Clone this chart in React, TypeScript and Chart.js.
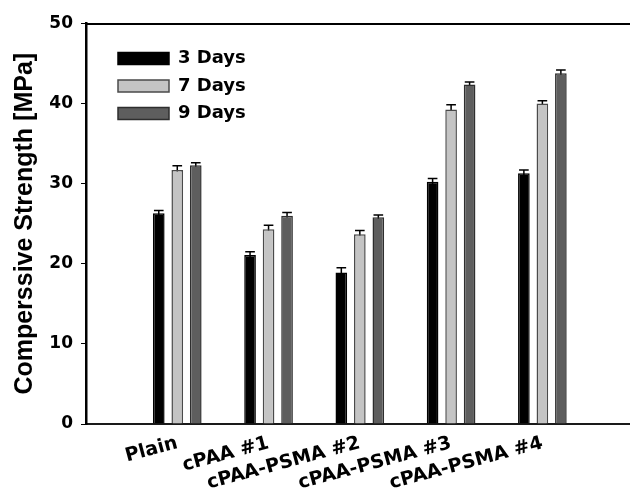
import React, { useEffect, useRef } from 'react';
import { Chart, registerables } from 'chart.js';

Chart.register(...registerables);

const categories = ['Plain', 'cPAA #1', 'cPAA-PSMA #2', 'cPAA-PSMA #3', 'cPAA-PSMA #4'];
const seriesNames = ['3 Days', '7 Days', '9 Days'];
const days3 = [26.3, 21.1, 18.9, 30.25, 31.3];
const days7 = [31.7, 24.3, 23.7, 39.25, 40.0];
const days9 = [32.3, 26.0, 25.8, 42.4, 43.8];
const err3 = [0.35, 0.4, 0.6, 0.4, 0.4];
const err7 = [0.55, 0.5, 0.45, 0.6, 0.35];
const err9 = [0.3, 0.4, 0.3, 0.3, 0.4];
const yTicks = [0, 10, 20, 30, 40, 50];
const xSlots = [0, 1, 2, 3, 4, 5, 6];

const errorBarPlugin = {
  id: 'errorBars',
  beforeDatasetsDraw(chart: any) {
    const ctx = chart.ctx;
    const ys = chart.scales.y;
    chart.data.datasets.forEach((ds: any, di: number) => {
      const meta = chart.getDatasetMeta(di);
      meta.data.forEach((bar: any, i: number) => {
        const v = ds.data[i].y;
        const e = ds.errors[i];
        const yTop = ys.getPixelForValue(v + e);
        const yBot = ys.getPixelForValue(v - e);
        const half = bar.width / 2 - 1;
        ctx.save();
        ctx.strokeStyle = '#000';
        ctx.lineWidth = 1.5;
        ctx.beginPath();
        ctx.moveTo(bar.x, yBot);
        ctx.lineTo(bar.x, yTop);
        ctx.moveTo(bar.x - half, yTop);
        ctx.lineTo(bar.x + half, yTop);
        ctx.stroke();
        ctx.restore();
      });
    });
  },
};

const legendShiftPlugin = {
  id: 'legendShift',
  afterLayout(chart: any) {
    const l = chart.legend;
    if (!l) return;
    const dx = 22.5;
    const dy = 32;
    l.left += dx;
    l.right += dx;
    l.top += dy;
    l.bottom += dy;
  },
};

export default function App() {
  const ref = useRef<HTMLCanvasElement | null>(null);

  useEffect(() => {
    if (!ref.current) return;
    const mk = (vals: number[]) => vals.map((v, i) => ({ x: i + 1, y: v }));
    const font = (size: number, family = 'DejaVu Sans') => ({ family, weight: 'bold' as const, size });
    const chart = new Chart(ref.current, {
      type: 'bar',
      data: {
        datasets: [
          { label: seriesNames[0], data: mk(days3), errors: err3, backgroundColor: '#000000', borderColor: '#000000', borderWidth: 1.5, xAxisID: 'x', yAxisID: 'y' } as any,
          { label: seriesNames[1], data: mk(days7), errors: err7, backgroundColor: '#c4c4c4', borderColor: '#4a4a4a', borderWidth: 1.5, xAxisID: 'x', yAxisID: 'y' } as any,
          { label: seriesNames[2], data: mk(days9), errors: err9, backgroundColor: '#5e5e5e', borderColor: '#2e2e2e', borderWidth: 1.5, xAxisID: 'x', yAxisID: 'y' } as any,
        ],
      },
      options: {
        responsive: false,
        animation: false,
        events: [],
        datasets: { bar: { categoryPercentage: 0.608, barPercentage: 0.63 } },
        layout: { padding: { top: 15.5, right: 0, left: 0, bottom: 0 } },
        plugins: {
          tooltip: { enabled: false },
          legend: {
            position: 'chartArea',
            align: 'start',
            labels: {
              boxWidth: 51,
              boxHeight: 12,
              padding: 9.5,
              color: '#000',
              font: font(18),
            },
          },
        },
        scales: {
          x: {
            type: 'linear',
            position: 'bottom',
            offset: false,
            min: 0,
            max: 5.96,
            afterBuildTicks: (s: any) => {
              s.ticks = xSlots.filter((v) => v <= 5.96).map((v) => ({ value: v }));
            },
            ticks: {
              autoSkip: false,
              minRotation: 15,
              maxRotation: 15,
              padding: 8,
              color: '#000',
              font: font(19),
              callback: (v: any) => categories[Number(v) - 1] ?? '',
            },
            grid: { display: false, drawTicks: false, offset: false },
            border: { display: true, color: '#1a1a1a', width: 2 },
            afterFit: (s: any) => {
              s.height = 65;
              s.paddingLeft = 0;
              s.paddingRight = 0;
            },
          },
          xTop: {
            type: 'linear',
            position: 'top',
            offset: false,
            min: 0,
            max: 5.96,
            ticks: { display: false },
            grid: { display: false, drawTicks: false },
            border: { display: true, color: '#000', width: 2 },
            afterFit: (s: any) => {
              s.height = 0;
              s.paddingLeft = 0;
              s.paddingRight = 0;
            },
          },
          y: {
            min: 0,
            max: 50,
            afterBuildTicks: (s: any) => {
              s.ticks = yTicks.map((v) => ({ value: v }));
            },
            ticks: { padding: 8, color: '#000', font: font(17) },
            grid: { drawOnChartArea: false, drawTicks: true, tickLength: 5, color: '#000', lineWidth: 1 },
            border: { display: true, color: '#000', width: 2.5 },
            title: {
              display: true,
              text: 'Comperssive Strength [MPa]',
              color: '#000',
              font: font(25, 'Liberation Sans'),
              padding: { top: 2, bottom: 0 },
            },
            afterFit: (s: any) => {
              s.width = 78;
              s.paddingTop = 0;
              s.paddingBottom = 0;
            },
          },
        },
      } as any,
      plugins: [errorBarPlugin, legendShiftPlugin],
    });
    return () => chart.destroy();
  }, []);

  return (
    <div style={{ width: 622, overflow: 'visible' }}>
      <style>{'html,body{overflow:hidden;} body{margin-right:0;} #root{overflow:visible;width:622px;}'}</style>
      <canvas ref={ref} width={622} height={481} style={{ display: 'block' }} />
    </div>
  );
}
